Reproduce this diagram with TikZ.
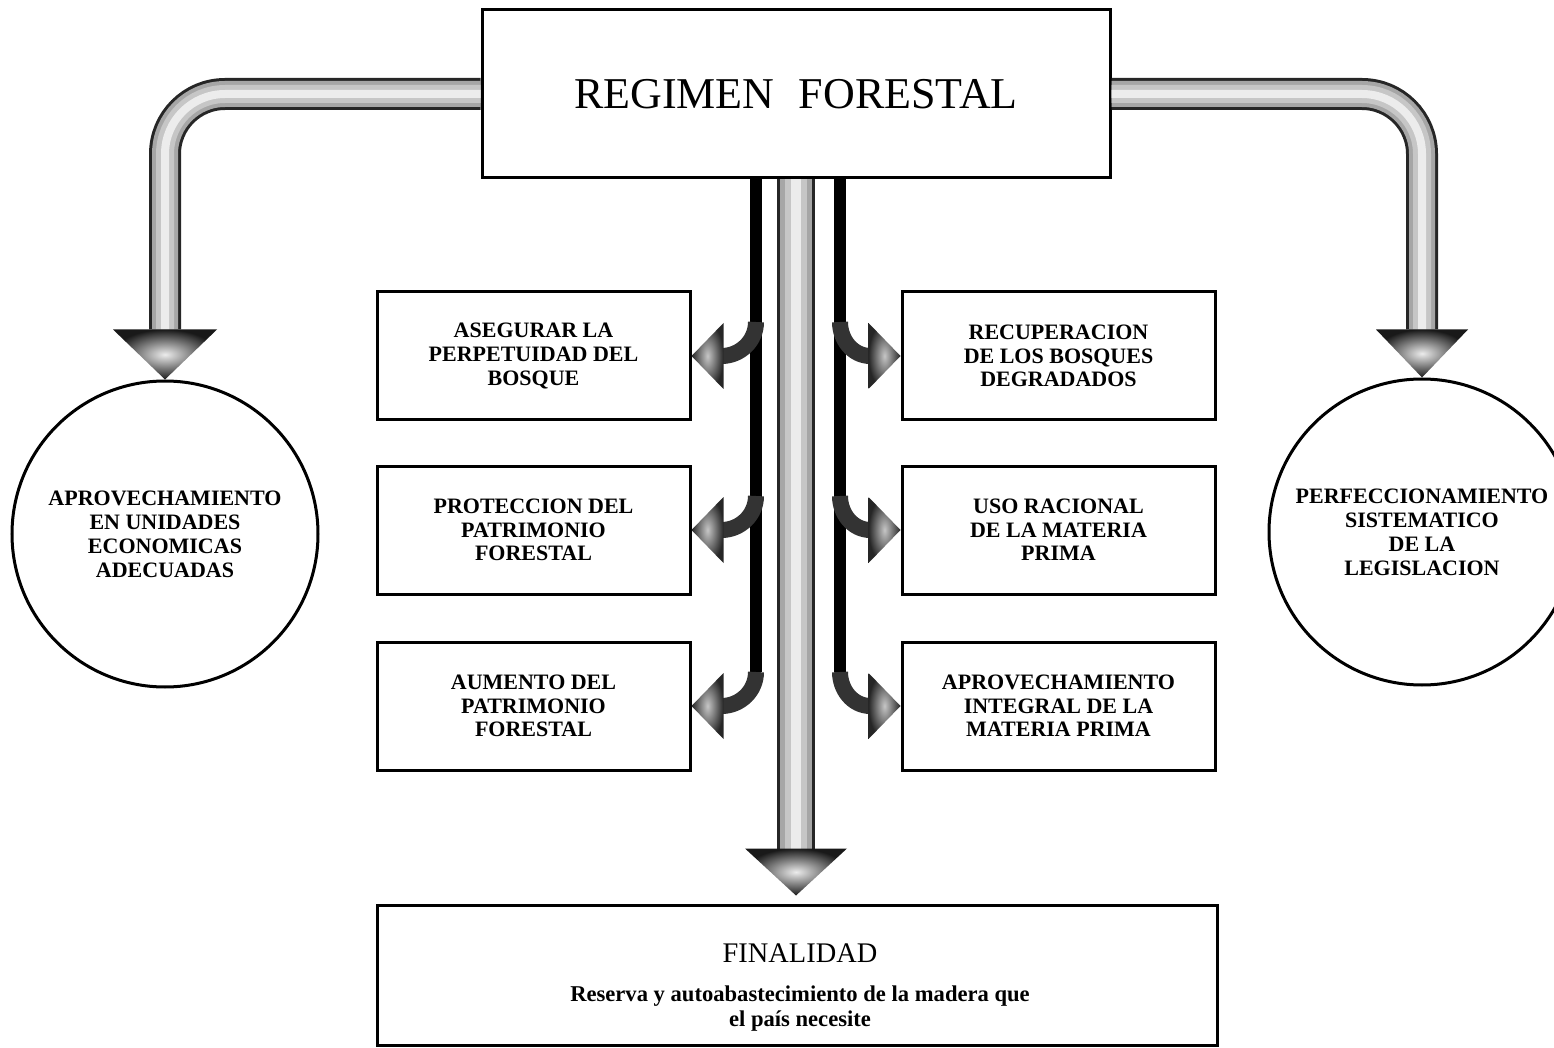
\documentclass[tikz,border=0pt]{standalone}
\usepackage{fontspec}
\setmainfont{Liberation Serif}
\usetikzlibrary{calc}
\tikzset{>=stealth}
\tikzset{
  box/.style={draw, line width=1.5pt, fill=white, minimum width=156.5pt, minimum height=64pt, inner sep=0pt, align=center, font=\fontsize{11}{11.8}\selectfont\bfseries},
  ring/.style={circle, draw, line width=1.5pt, fill=white, minimum size=153pt, inner sep=0pt, align=center, font=\fontsize{11}{12}\selectfont\bfseries},
  branch/.style={line width=8pt, black!80},
  thinline/.style={line width=6pt, black},
  bighead/.style={inner color=gray!15, outer color=black!90},
  smallhead/.style={inner color=gray!45, outer color=black!85}
}

\begin{document}
\begin{tikzpicture}[x=0.5pt, y=-0.5pt]
    \useasboundingbox (0,0) rectangle (1554,1048);
    % top and bottom
    \node[draw, line width=1.5pt, minimum width=314pt, minimum height=84pt, font=\fontsize{22}{24}\selectfont] (reg) at (796,94) {REGIMEN\hspace{0.55em}FORESTAL};
    \node[draw, line width=1.5pt, minimum width=420pt, minimum height=70pt] (fin) at (797,975) {};
    \node[align=center, font=\fontsize{11.3}{12.5}\selectfont\bfseries] (finText) at (800,988) {{\mdseries\fontsize{14.2}{15}\selectfont FINALIDAD}\\[7pt]Reserva y autoabastecimiento de la madera que\\el país necesite};
    % boxes
    \node[box] (aseg) at (533.5,356) {ASEGURAR LA\\PERPETUIDAD DEL\\BOSQUE};
    \node[box] (prot) at (533.5,530) {PROTECCION DEL\\PATRIMONIO\\FORESTAL};
    \node[box] (aum) at (533.5,706) {AUMENTO DEL\\PATRIMONIO\\FORESTAL};
    \node[box] (recu) at (1058.5,356) {RECUPERACION\\DE LOS BOSQUES\\DEGRADADOS};
    \node[box] (uso) at (1058.5,530) {USO RACIONAL\\DE LA MATERIA\\PRIMA};
    \node[box] (integ) at (1058.5,706) {APROVECHAMIENTO\\INTEGRAL DE LA\\MATERIA PRIMA};
    % circles
    \node[ring] (aprov) at (165,534) {APROVECHAMIENTO\\EN UNIDADES\\ECONOMICAS\\ADECUADAS};
    \node[ring] (perf) at (1422,532) {PERFECCIONAMIENTO\\SISTEMATICO\\DE LA\\LEGISLACION};
    % big arrows
    \foreach \w/\c in {32/black!85,26/gray!70,18/gray!45,8/gray!15}{
    \draw[line width=\w*0.5pt, \c, rounded corners=30pt] (reg.west) -| ($(aprov.north)+(0,-50)$);
    \draw[line width=\w*0.5pt, \c, rounded corners=30pt] (reg.east) -| ($(perf.north)+(0,-48)$);
    \draw[line width=\w*1.2*0.5pt, \c] (reg.south) -- ($(reg.south |- fin.north)+(0,-55)$);
    }
    \shade[bighead] (aprov.north) -- ++(-52,-50) -- ++(104,0) -- cycle;
    \shade[bighead] (perf.north) -- ++(-46,-48) -- ++(92,0) -- cycle;
    \shade[bighead] ($(reg.south |- fin.north)+(0,-8)$) -- ++(-51,-47) -- ++(102,0) -- cycle;
    % side branches
    \coordinate (lx) at ($(reg.south)+(-40,0)$);
    \coordinate (rx) at ($(reg.south)+(44,0)$);
    \draw[thinline] (lx) -- ($(lx |- aum.east)+(0,-34)$);
    \draw[thinline] (rx) -- ($(rx |- integ.west)+(0,-34)$);
    \foreach \b in {aseg,prot,aum}{
    \draw[branch] ($(lx |- \b.east)+(0,-34)$) to[out=-90,in=0] ($(\b.east)+(30,0)$);
    \shade[smallhead] (\b.east) -- ++(32,-33) -- ++(0,66) -- cycle;
    }
    \foreach \b in {recu,uso,integ}{
    \draw[branch] ($(rx |- \b.west)+(0,-34)$) to[out=-90,in=180] ($(\b.west)+(-30,0)$);
    \shade[smallhead] (\b.west) -- ++(-32,-33) -- ++(0,66) -- cycle;
    }
\end{tikzpicture}
\end{document}
